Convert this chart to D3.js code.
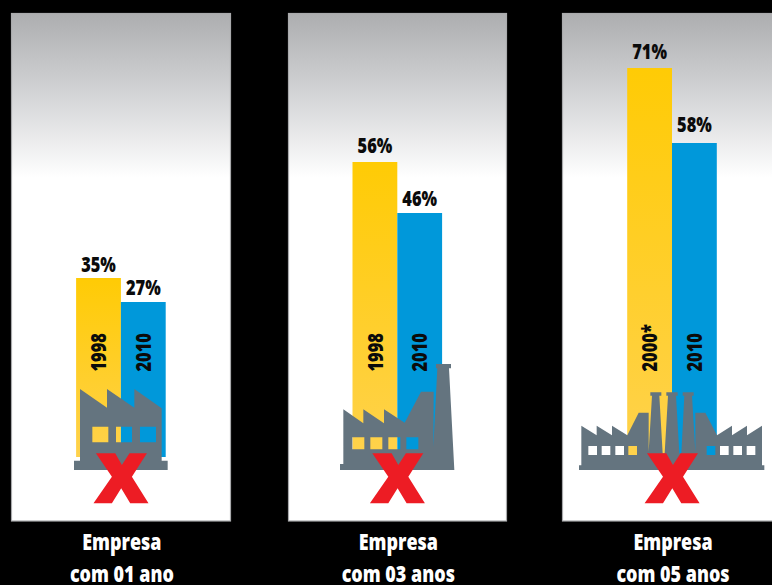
<!DOCTYPE html>
<html>
<head>
<meta charset="utf-8">
<script src="https://cdn.jsdelivr.net/npm/d3@7"></script>
<style>
html,body{margin:0;padding:0;background:#000;overflow:hidden}
svg{display:block}
text{font-family:"Open Sans",sans-serif;font-weight:800}
</style>
</head>
<body>
<script>
// Survival of companies by age, comparing an earlier year with 2010
const groupLabels = ["com 01 ano", "com 03 anos", "com 05 anos"];
const firstYears = ["1998", "1998", "2000*"];
const lastYears = ["2010", "2010", "2010"];
const firstValues = [35, 56, 71];
const lastValues = [27, 46, 58];

const width = 772, height = 585;
const panelEdges = [[11.5, 230.5], [288.5, 506.5], [562.5, 790]];
const groupCentres = [120.9, 397.3, 672];
const labelGapsFirst = [6, 9, 9];
const labelGapsLast = [7, 7, 11];

// The printed bars are not proportional, so the scale runs through the height of each value
const y = d3.scaleLinear()
  .domain([0, 27, 35, 46, 56, 58, 71])
  .range([457, 302, 278, 213, 162, 143, 68]);
const inner = d3.scaleBand().domain([0, 1]).range([-44.8, 44.8]);

const svg = d3.select("body").append("svg").attr("width", width).attr("height", height);
const defs = svg.append("defs");

const sky = defs.append("linearGradient").attr("id", "sky").attr("gradientUnits", "userSpaceOnUse")
  .attr("x1", 0).attr("x2", 0).attr("y1", 14).attr("y2", 178);
sky.append("stop").attr("offset", 0).attr("stop-color", "#adaeb0");
sky.append("stop").attr("offset", 0.5).attr("stop-color", "#d4d5d7");
sky.append("stop").attr("offset", 1).attr("stop-color", "#ffffff");

const gold = defs.append("linearGradient").attr("id", "gold").attr("x1", 0).attr("x2", 0).attr("y1", 0).attr("y2", 1);
gold.append("stop").attr("offset", 0).attr("stop-color", "#ffcb05");
gold.append("stop").attr("offset", 1).attr("stop-color", "#ffd24c");

const slate = "#64747f";
const valueSize = 21, textSquash = 0.78;

function condensed(sel, px, py, rotate) {
  sel.attr("transform", `translate(${px},${py})${rotate ? " rotate(-90)" : ""} scale(${textSquash},1)`);
  return sel;
}

// Panels
svg.selectAll("rect.panel").data(panelEdges).join("rect")
  .attr("class", "panel")
  .attr("x", d => d[0]).attr("y", 13.5)
  .attr("width", d => d[1] - d[0]).attr("height", 507.5)
  .attr("fill", "url(#sky)").attr("stroke", "#a9aaac").attr("stroke-width", 1.2);

// Bars, year labels and value labels
const groups = svg.selectAll("g.group").data(groupLabels).join("g")
  .attr("class", "group").attr("transform", (d, i) => `translate(${groupCentres[i]},0)`);

groups.each(function (label, i) {
  const g = d3.select(this);
  const bars = [
    { v: firstValues[i], year: firstYears[i], fill: "url(#gold)", gap: labelGapsFirst[i] },
    { v: lastValues[i], year: lastYears[i], fill: "#0098da", gap: labelGapsLast[i] }
  ];
  bars.forEach((b, k) => {
    const x0 = inner(k), bw = inner.bandwidth();
    g.append("rect").attr("x", x0).attr("y", y(b.v))
      .attr("width", bw).attr("height", y(0) - y(b.v)).attr("fill", b.fill);
    condensed(g.append("text"), x0 + bw / 2, y(b.v) - b.gap)
      .attr("text-anchor", "middle").attr("font-size", valueSize).attr("fill", "#0b0b0b")
      .text(b.v + "%");
    condensed(g.append("text"), x0 + bw / 2 + 7.7, 371.5, true)
      .attr("text-anchor", "start").attr("font-size", valueSize).attr("fill", "#0b0b0b")
      .text(b.year);
  });
  condensed(g.append("text"), 1, 550).attr("text-anchor", "middle")
    .attr("font-size", 23).attr("fill", "#fff").text("Empresa");
  condensed(g.append("text"), 1, 582).attr("text-anchor", "middle")
    .attr("font-size", 23).attr("fill", "#fff").text(label);
});

// Factory silhouettes, outlined at triple size; the window holes let the bars show through
function windows(xs, w, top, bottom) {
  return xs.map(x => `M${x},${top}H${x + w}V${bottom}H${x}Z`).join("");
}
const factories = [
  {
    at: [0, 240],
    outline: "M240,447L321,503V447L403,503V447L485,505V662H503V690H222V662H240Z",
    holes: windows([277, 348, 420], 48, 560, 607)
  },
  {
    at: [280, 340],
    outline: "M190,208L250,250V208L312,250V208L374,248L423,155H461L460,320L472,85H468V72H513V85H507L523,390H180V372H190Z",
    holes: windows([217, 271, 325, 379], 36, 292, 328)
  },
  {
    at: [552, 310],
    outline: "M88,347L134,376V347L180,376V347L226,376L260,308H290V425L300,257H295V247H328V257H322L332,430H338L348,257H343V247H377V257H372L382,430H388L397,257H392V247H425V257H420L430,425V308H460L495,376L540,347V376L585,347V376L630,347V466H637V480H81V466H88Z",
    holes: windows([109, 149, 190, 229, 464, 504, 544, 584], 26, 408, 435)
  }
];
svg.selectAll("path.factory").data(factories).join("path")
  .attr("class", "factory")
  .attr("transform", d => `translate(${d.at[0]},${d.at[1]}) scale(${1 / 3})`)
  .attr("fill-rule", "evenodd").attr("fill", slate)
  .attr("d", d => d.outline + d.holes);

// Red closure cross over each factory
const cross = "M-25.3,453.3H-6L0.7,465L8.3,453.3H25.7L10.7,476.7L27.3,503.3H9L0,488.3L-9.3,503.3H-27.7L-9.3,476.7Z";
svg.selectAll("path.cross").data(groupCentres).join("path")
  .attr("class", "cross")
  .attr("d", cross).attr("fill", "#ed1c24")
  .attr("transform", d => `translate(${d + 0.3},0)`);
</script>
</body>
</html>
